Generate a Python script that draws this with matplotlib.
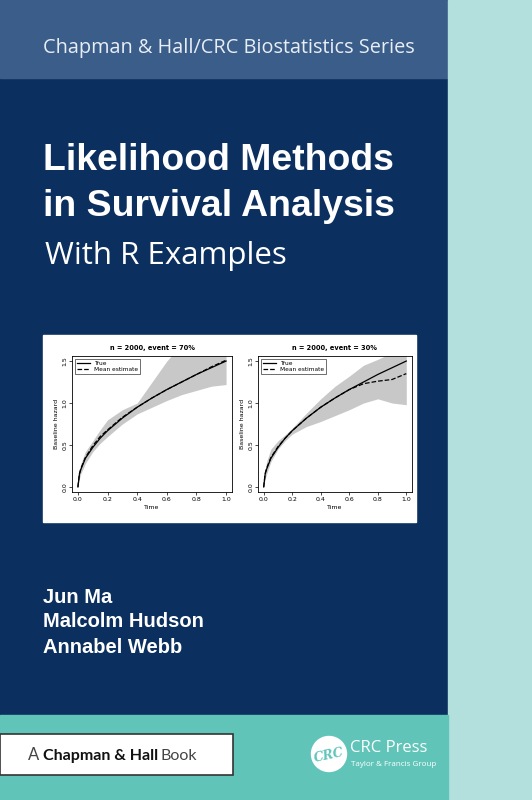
import matplotlib
matplotlib.use("Agg")
import matplotlib.pyplot as plt
from matplotlib.patches import Rectangle, Circle

W, H = 532, 800
series_title = "Chapman & Hall/CRC Biostatistics Series"
title_lines = ["Likelihood Methods", "in Survival Analysis"]
subtitle = "With R Examples"
authors = ["Jun Ma", "Malcolm Hudson", "Annabel Webb"]

t = [0, 0.01, 0.02, 0.05, 0.1, 0.15, 0.2, 0.3, 0.4, 0.5, 0.6, 0.7, 0.8, 0.9, 1.0]
true_h = [0, 0.15, 0.21, 0.34, 0.47, 0.58, 0.67, 0.82, 0.95, 1.06, 1.16, 1.25, 1.34, 1.42, 1.5]
left_mean = [0, 0.16, 0.22, 0.35, 0.49, 0.60, 0.68, 0.83, 0.95, 1.06, 1.16, 1.25, 1.34, 1.43, 1.51]
left_up = [0, 0.2, 0.28, 0.42, 0.55, 0.68, 0.8, 0.92, 1.0, 1.25, 1.5, 1.7, 1.9, 2.0, 2.1]
left_lo = [0, 0.1, 0.16, 0.28, 0.42, 0.52, 0.6, 0.75, 0.87, 0.95, 1.03, 1.1, 1.15, 1.2, 1.22]
right_mean = [0, 0.16, 0.22, 0.35, 0.48, 0.58, 0.67, 0.82, 0.95, 1.06, 1.16, 1.23, 1.26, 1.28, 1.35]
right_up = [0, 0.2, 0.3, 0.45, 0.55, 0.62, 0.7, 0.88, 1.05, 1.2, 1.32, 1.45, 1.52, 1.6, 1.65]
right_lo = [0, 0.1, 0.15, 0.3, 0.45, 0.55, 0.63, 0.72, 0.78, 0.85, 0.92, 1.0, 1.05, 1.0, 0.98]
panel_titles = ["n = 2000, event = 70%", "n = 2000, event = 30%"]
xticks = [0.0, 0.2, 0.4, 0.6, 0.8, 1.0]
yticks = [0.0, 0.5, 1.0, 1.5]

fig = plt.figure(figsize=(W/100, H/100), dpi=100)
bg = fig.add_axes([0, 0, 1, 1])
bg.set_xlim(0, W); bg.set_ylim(H, 0); bg.axis("off")

NAVY = "#0b2f5f"
bg.add_patch(Rectangle((0, 0), 448, 715, color=NAVY))
bg.add_patch(Rectangle((0, 0), 448, 78, color="#3b5d8a"))
bg.add_patch(Rectangle((448, 0), 84, 800, color="#b3e0dc"))
bg.add_patch(Rectangle((0, 715), 448, 85, color="#60c4b9"))
bg.add_patch(Rectangle((0, 734), 233, 41, facecolor="white", edgecolor="#333333", lw=1.2))
bg.add_patch(Rectangle((43, 335), 373, 187, color="white"))
bg.add_patch(Circle((329, 754), 17.5, color="white"))

F = "Liberation Sans"
bg.text(43, 53, series_title, color="#e8eef5", fontsize=14.3, family="Open Sans", va="baseline")
bg.text(43, 170, title_lines[0], color="white", fontsize=26.9, weight="bold", family=F, va="baseline")
bg.text(43, 216, title_lines[1], color="white", fontsize=26.9, weight="bold", family=F, va="baseline")
bg.text(45, 264, subtitle, color="white", fontsize=22.5, family="Open Sans", va="baseline")
for y, a in zip([603, 627, 653], authors):
    bg.text(43, y, a, color="white", fontsize=14.5, weight="bold", family=F, va="baseline")
bg.text(28, 760, "A", color="#444444", fontsize=12, family="Lato", va="baseline")
bg.text(43, 760, "Chapman & Hall", color="#111111", fontsize=11.5, weight="bold", family="Lato", va="baseline")
bg.text(161, 760, "Book", color="#444444", fontsize=11.5, family="Lato", va="baseline")
bg.text(329, 755, "CRC", color="#60c4b9", fontsize=9, weight="bold", style="italic",
        family="DejaVu Serif", ha="center", va="center", rotation=12)
bg.text(350, 748, "CRC Press", color="white", fontsize=12, family="Open Sans", va="center")
bg.text(351, 764, "Taylor & Francis Group", color="white", fontsize=5.8, family="Open Sans", va="center")

def panel(rect, up, lo, mean, ttl):
    ax = fig.add_axes([rect[0]/W, 1-rect[3]/H, (rect[2]-rect[0])/W, (rect[3]-rect[1])/H])
    ax.fill_between(t, lo, up, color="#c8c8c8", lw=0)
    ax.plot(t, true_h, color="black", lw=0.9, label="True")
    ax.plot(t, mean, color="black", lw=0.9, ls="--", label="Mean estimate")
    ax.set_xlim(-0.04, 1.04); ax.set_ylim(-0.06, 1.56)
    ax.set_xticks(xticks); ax.set_yticks(yticks)
    ax.set_xticklabels([f"{v:.1f}" for v in xticks], fontsize=4.5)
    ax.set_yticklabels([f"{v:.1f}" for v in yticks], fontsize=4.5, rotation=90, va="center")
    ax.tick_params(length=2, width=0.5, pad=1.5)
    for s in ax.spines.values(): s.set_linewidth(0.6)
    ax.set_xlabel("Time", fontsize=4.5, labelpad=2)
    ax.set_ylabel("Baseline hazard", fontsize=4.5, labelpad=2)
    ax.set_title(ttl, fontsize=4.8, weight="bold", pad=4)
    ax.legend(loc="upper left", fontsize=4.2, frameon=True, fancybox=False, edgecolor="black",
              borderpad=0.3, handlelength=2.2, labelspacing=0.2).get_frame().set_linewidth(0.5)

panel((72, 356, 232, 492), left_up, left_lo, left_mean, panel_titles[0])
panel((258, 356, 412, 492), right_up, right_lo, right_mean, panel_titles[1])

fig.savefig("out.png", dpi=100)
